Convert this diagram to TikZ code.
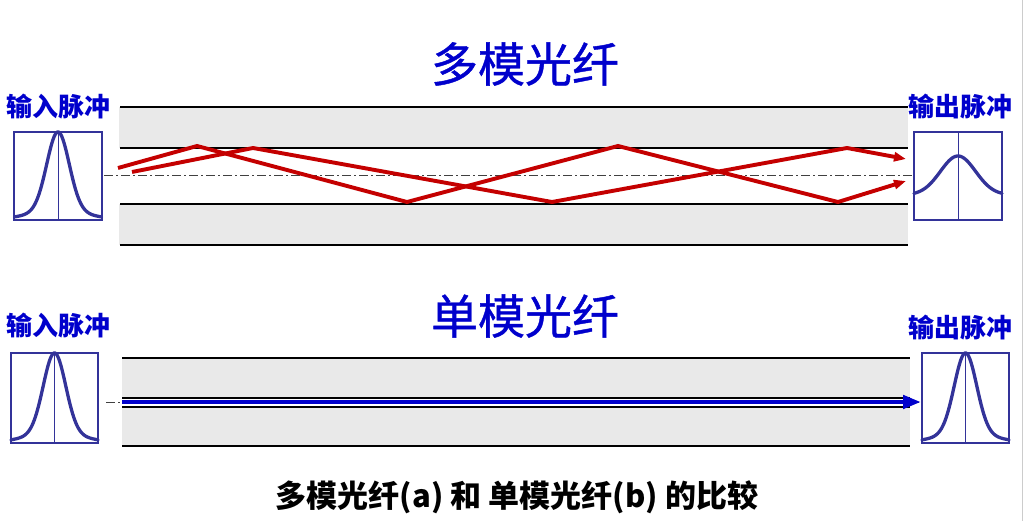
\documentclass[tikz,border=0pt]{standalone}
\usepackage{fontspec}
\newfontfamily\cjk{Noto Sans CJK SC}
\newfontfamily\cjkheavy[FakeBold=0.9]{Noto Sans CJK SC}
\usetikzlibrary{arrows.meta}
\definecolor{titleblue}{RGB}{0,0,204}
\definecolor{pulsenavy}{RGB}{51,51,153}
\definecolor{rayred}{RGB}{196,0,0}
\definecolor{cladgray}{RGB}{233,233,233}
\begin{document}
\begin{tikzpicture}[x=1pt,y=-1pt,
    cladding/.style={fill=cladgray,draw=none},
    edge/.style={draw=black,line width=1.1pt},
    axisline/.style={black!75,line width=1pt,dash pattern=on 9pt off 3pt on 2pt off 3pt},
    ray/.style={rayred,line width=3.9pt,line join=miter,-{Triangle[length=12pt,width=9pt]}},
    beam/.style={titleblue,line width=4.5pt,-{Triangle[length=18pt,width=13pt]}},
    pulsebox/.style={draw=pulsenavy,line width=1.2pt,minimum width=88pt,minimum height=88pt,inner sep=0pt},
    pulse/.style={pulsenavy,line width=3.3pt,line cap=round},
    title/.style={titleblue,font=\cjkheavy\fontsize{47}{47}\selectfont},
    tag/.style={titleblue,font=\cjk\bfseries\fontsize{26}{26}\selectfont}]
  \useasboundingbox (0,0) rectangle (1024,521);
  \draw[gray!40,line width=1pt] (1022.5,0) -- (1022.5,521);

  % titles and labels
  \node[title] (mmtitle) at (525,64) {多模光纤};
  \node[title] (smtitle) at (525,316) {单模光纤};
  \node[tag] (mmin) at (58,107) {输入脉冲};
  \node[tag] (mmout) at (960,107) {输出脉冲};
  \node[tag] (smin) at (58,326) {输入脉冲};
  \node[tag] (smout) at (960,328) {输出脉冲};
  \node[font=\cjk\bfseries\fontsize{31}{31}\selectfont] (caption) at (517,497)
    {多模光纤(a) 和 单模光纤(b) 的比较};

  % multimode fibre
  \fill[cladding] (119,107) rectangle (908,148);
  \fill[cladding] (119,204) rectangle (908,245);
  \foreach \y in {107,148,204,245}
    \draw[edge] (120,\y) -- (908,\y);
  \draw[axisline] (104,176) -- (912,176);
  \draw[ray] (118,168) -- (197,146) -- (407,202) -- (618,146) -- (838,202) -- (906,181);
  \draw[ray] (132,172) -- (253,148) -- (552,202) -- (847,148) -- (906,159);

  % singlemode fibre
  \fill[cladding] (122,358) rectangle (910,398);
  \fill[cladding] (122,407) rectangle (910,446);
  \foreach \y in {358,398,407,446}
    \draw[edge] (122,\y) -- (910,\y);
  \draw[axisline] (106,402) -- (922,402);
  \draw[beam] (122,402) -- (921,402);

  % pulse boxes
  \node[pulsebox] (inA) at (58,176) {};
  \node[pulsebox] (outA) at (958,176) {};
  \node[pulsebox,minimum width=87pt,minimum height=90pt] (inB) at (54.5,398) {};
  \node[pulsebox,minimum width=87pt,minimum height=90pt] (outB) at (965.5,398) {};
  \foreach \b in {inA,outA,inB,outB}
    \draw[pulsenavy,line width=1pt] (\b.north) -- (\b.south);

  % narrow pulses
  \foreach \b/\h in {inA/44,inB/45,outB/45}{
    \begin{scope}[shift={(\b.center)}]
      \draw[pulse] plot[domain=-43.5:43.5,samples=80,smooth]
        (\x,{\h-2*\h*(0.9*exp(-(\x)^2/250)+0.1*exp(-(\x)^2/1800))});
    \end{scope}
  }
  % broadened pulse
  \begin{scope}[shift={(outA.center)}]
    \draw[pulse] plot[domain=-44:44,samples=80,smooth]
      (\x,{19-39*exp(-(\x)^2/618)});
  \end{scope}
\end{tikzpicture}
\end{document}
